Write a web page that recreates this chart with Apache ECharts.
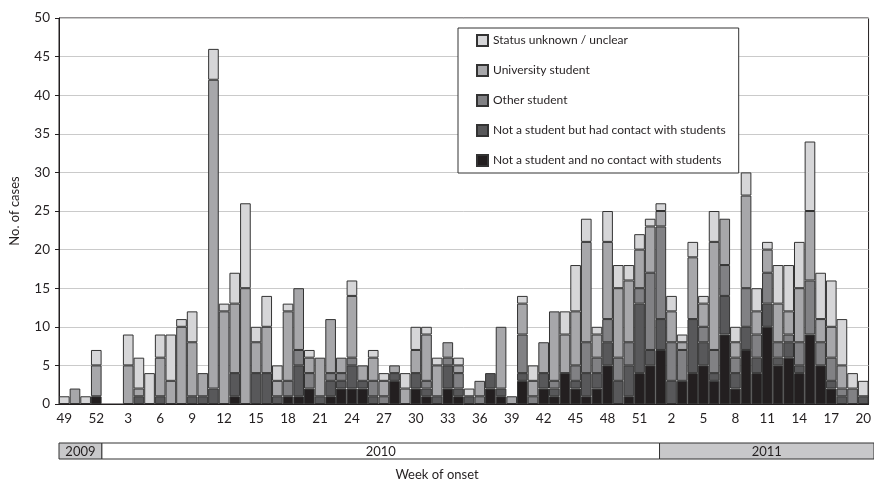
<!DOCTYPE html>
<html>
<head>
<meta charset="utf-8">
<script src="https://cdn.jsdelivr.net/npm/echarts@6/dist/echarts.min.js"></script>
<style>
  html, body { margin: 0; padding: 0; background: #fff; }
  #chart { width: 874px; height: 481px; }
</style>
</head>
<body>
<div id="chart"></div>
<script>
// week of onset: 2009 wk49 .. 2011 wk20
const weeks = ['49', '50', '51', '52',
  '1', '2', '3', '4', '5', '6', '7', '8', '9', '10', '11', '12', '13', '14', '15', '16', '17', '18', '19', '20',
  '21', '22', '23', '24', '25', '26', '27', '28', '29', '30', '31', '32', '33', '34', '35', '36', '37', '38',
  '39', '40', '41', '42', '43', '44', '45', '46', '47', '48', '49', '50', '51', '52',
  '1', '2', '3', '4', '5', '6', '7', '8', '9', '10', '11', '12', '13', '14', '15', '16', '17', '18', '19', '20'];

const noContact = [0, 0, 0, 1, 0, 0, 0, 0, 0, 0, 0, 0, 0, 0, 0, 0, 1, 0, 0, 0, 0, 1, 1, 2, 0, 1, 2, 2, 2, 0, 0, 3, 0, 2, 1, 0, 2, 1,
  0, 0, 2, 1, 0, 3, 0, 2, 1, 4, 2, 1, 2, 5, 0, 1, 4, 5, 7, 0, 3, 4, 5, 3, 9, 2, 7, 4, 10, 5, 6, 4, 9, 5, 2, 0, 0, 0];
const hadContact = [0, 0, 0, 0, 0, 0, 0, 1, 0, 1, 0, 0, 1, 1, 2, 0, 3, 0, 4, 4, 1, 0, 4, 0, 1, 2, 1, 3, 1, 1, 0, 1, 0, 2, 1, 1, 3, 1,
  1, 0, 2, 1, 0, 1, 0, 2, 1, 0, 1, 3, 2, 3, 3, 4, 9, 2, 4, 3, 0, 7, 3, 1, 5, 2, 3, 2, 3, 1, 2, 1, 0, 0, 1, 1, 0, 1];
const otherStudent = [0, 0, 0, 0, 0, 0, 0, 0, 0, 0, 0, 0, 0, 0, 0, 0, 0, 0, 0, 0, 0, 2, 2, 2, 0, 1, 1, 1, 0, 2, 1, 0, 0, 0, 1, 0, 1, 2,
  0, 1, 0, 0, 0, 5, 1, 0, 1, 0, 2, 4, 2, 3, 3, 3, 2, 10, 12, 5, 4, 0, 2, 3, 4, 2, 5, 3, 4, 2, 1, 3, 7, 3, 3, 1, 2, 0];
const uniStudent = [0, 2, 0, 4, 0, 0, 5, 1, 0, 5, 3, 10, 7, 3, 40, 12, 9, 15, 4, 6, 2, 9, 8, 2, 5, 7, 2, 8, 2, 3, 2, 1, 2, 3, 6, 4, 2, 1,
  0, 2, 0, 8, 1, 4, 2, 4, 9, 5, 7, 13, 3, 10, 9, 8, 5, 6, 2, 4, 1, 8, 3, 14, 6, 2, 12, 3, 3, 5, 3, 7, 9, 3, 4, 3, 0, 0];
const unknown = [1, 0, 1, 2, 0, 0, 4, 4, 4, 3, 6, 1, 4, 0, 4, 1, 4, 11, 2, 4, 2, 1, 0, 1, 0, 0, 0, 2, 0, 1, 1, 0, 2, 3, 1, 1, 0, 1,
  1, 0, 0, 0, 0, 1, 2, 0, 0, 3, 6, 3, 1, 4, 3, 2, 2, 1, 1, 2, 1, 2, 1, 4, 0, 2, 3, 3, 1, 5, 6, 6, 9, 6, 6, 6, 2, 2];

const yearLabels = ['2009', '2010', '2011'];
const yearSpans = [[0, 3], [4, 55], [56, 75]];

const seriesNames = ['Not a student and no contact with students', 'Not a student but had contact with students',
  'Other student', 'University student', 'Status unknown / unclear'];
const seriesData = [noContact, hadContact, otherStudent, uniStudent, unknown];
const colors = ['#231f20', '#58585a', '#818184', '#a7a7aa', '#d6d6d8'];
const yearFills = ['#c8c8ca', '#ffffff', '#c8c8ca'];

const font = 'Lato';
const ink = '#231f20';

let myChart = echarts.init(document.getElementById('chart'));

let series = seriesData.map(function (arr, i) {
  return {
    name: seriesNames[i],
    type: 'bar',
    stack: 'cases',
    xAxisIndex: 0,
    yAxisIndex: 0,
    barCategoryGap: '0%',
    data: arr.map(function (v) { return v === 0 ? '-' : v; }),
    itemStyle: {
      color: colors[i],
      borderColor: '#333',
      borderWidth: 1
    }
  };
});

series.push({
  type: 'custom',
  xAxisIndex: 1,
  yAxisIndex: 1,
  silent: true,
  encode: { x: [0, 1] },
  data: yearSpans,
  renderItem: function (params, api) {
    let band = api.size([1, 0])[0];
    let x0 = api.coord([api.value(0), 0])[0] - band / 2;
    let x1 = api.coord([api.value(1), 0])[0] + band / 2;
    let top = params.coordSys.y;
    let h = params.coordSys.height;
    return {
      type: 'group',
      children: [{
        type: 'rect',
        shape: { x: x0, y: top, width: x1 - x0, height: h },
        style: { fill: yearFills[params.dataIndex], stroke: '#333', lineWidth: 1 }
      }, {
        type: 'text',
        style: {
          text: yearLabels[params.dataIndex],
          x: (x0 + x1) / 2,
          y: top + h / 2 + 1,
          align: 'center',
          verticalAlign: 'middle',
          fontSize: 13,
          fontFamily: font,
          fill: ink
        }
      }]
    };
  }
});

let option = {
  animation: false,
  grid: [
    { left: 59, top: 18, width: 818, bottom: 77, show: true, borderColor: ink, borderWidth: 1 },
    { left: 59, top: 443, width: 818, height: 16 }
  ],
  legend: {
    data: seriesNames.slice().reverse(),
    orient: 'vertical',
    left: 458,
    top: 28,
    padding: [6, 13, 6, 18],
    itemWidth: 11,
    itemHeight: 11,
    itemGap: 17,
    icon: 'rect',
    backgroundColor: '#fff',
    borderColor: '#333',
    borderWidth: 1,
    textStyle: { color: ink, fontSize: 12, fontFamily: font }
  },
  xAxis: [
    {
      type: 'category',
      gridIndex: 0,
      data: weeks,
      axisLine: { lineStyle: { color: ink } },
      axisTick: { interval: 0, length: 5, lineStyle: { color: ink } },
      axisLabel: { interval: 2, color: ink, fontSize: 13.5, fontFamily: font, margin: 8 }
    },
    {
      type: 'category',
      gridIndex: 1,
      data: weeks,
      show: false
    }
  ],
  yAxis: [
    {
      type: 'value',
      gridIndex: 0,
      min: 0,
      max: 50,
      interval: 5,
      name: 'No. of cases',
      nameLocation: 'middle',
      nameGap: 38,
      nameTextStyle: { color: ink, fontSize: 13, fontFamily: font },
      axisLine: { show: true, lineStyle: { color: ink } },
      axisTick: { show: true, length: 4, lineStyle: { color: ink } },
      axisLabel: { color: ink, fontSize: 13.5, fontFamily: font, margin: 9 },
      splitLine: { lineStyle: { color: '#cacaca' } }
    },
    {
      type: 'value',
      gridIndex: 1,
      min: 0,
      max: 1,
      show: false
    }
  ],
  graphic: [{
    type: 'text',
    left: 'center',
    top: 468,
    style: { text: 'Week of onset', fontSize: 13, fontFamily: font, fill: ink }
  }],
  series: series
};

myChart.setOption(option);
</script>
</body>
</html>
